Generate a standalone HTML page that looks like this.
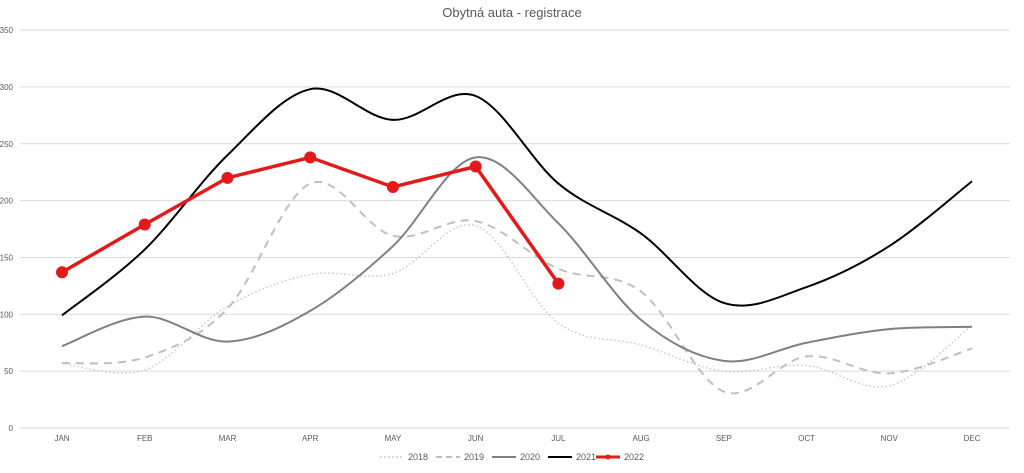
<!DOCTYPE html>
<html><head><meta charset="utf-8"><style>
body{margin:0;background:#fff;font-family:"Liberation Sans",sans-serif}
svg text{font-family:"Liberation Sans",sans-serif}
</style></head><body>
<svg id="c" width="1024" height="468" xmlns="http://www.w3.org/2000/svg">
<rect width="1024" height="468" fill="#fff"/>
<text x="512" y="17" text-anchor="middle" font-size="13" fill="#595959">Obytná auta - registrace</text>
<g id="grid"></g><g id="series"></g>
<g font-size="9" fill="#595959">
<line x1="380" y1="457" x2="404" y2="457" stroke="#bfbfbf" stroke-width="1.5" stroke-dasharray="1.5,2.5"/><text x="408" y="460">2018</text>
<line x1="436" y1="457" x2="460" y2="457" stroke="#bfbfbf" stroke-width="2" stroke-dasharray="6,4"/><text x="464" y="460">2019</text>
<line x1="492" y1="457" x2="516" y2="457" stroke="#808080" stroke-width="2"/><text x="520" y="460">2020</text>
<line x1="548" y1="457" x2="572" y2="457" stroke="#000" stroke-width="2"/><text x="576" y="460">2021</text>
<line x1="596" y1="457" x2="620" y2="457" stroke="#e41a1a" stroke-width="3"/><circle cx="608" cy="457" r="2.5" fill="#e41a1a"/><text x="624" y="460">2022</text>
</g>
</svg>
<script>
const NS="http://www.w3.org/2000/svg";
const X=i=>62+i*82.73, Y=v=>428-v*1.137;
const g=document.getElementById('grid');
let h='';
for(let v=0;v<=350;v+=50){const y=Y(v);h+=`<line x1="20" x2="1010" y1="${y}" y2="${y}" stroke="#d9d9d9" stroke-width="1"/><text x="13" y="${y+3}" font-size="8" fill="#595959" text-anchor="end">${v}</text>`;}
const m=["JAN","FEB","MAR","APR","MAY","JUN","JUL","AUG","SEP","OCT","NOV","DEC"];
m.forEach((s,i)=>h+=`<text x="${X(i)}" y="441" font-size="8" fill="#595959" text-anchor="middle">${s}</text>`);
g.innerHTML=h;
function smooth(d){const p=d.map((v,i)=>[X(i),Y(v)]);let s=`M${p[0][0]},${p[0][1]}`;
for(let i=0;i<p.length-1;i++){const p0=p[i-1]||p[i],p1=p[i],p2=p[i+1],p3=p[i+2]||p2,t=6;
s+=`C${p1[0]+(p2[0]-p0[0])/t},${p1[1]+(p2[1]-p0[1])/t} ${p2[0]-(p3[0]-p1[0])/t},${p2[1]-(p3[1]-p1[1])/t} ${p2[0]},${p2[1]}`;}return s;}
const S=[
[[57,51,107,135,136,178,92,73,50,55,37,90],'#c8c8c8',1.5,'1.5,2.5'],
[[57,62,105,215,169,182,140,120,32,63,48,70],'#bfbfbf',2,'8,6'],
[[72,98,76,103,160,238,180,95,59,75,87,89],'#808080',2,''],
[[99,157,240,298,271,292,215,171,110,124,160,217],'#000',2,'']];
let o='';
S.forEach(([d,c,w,da])=>o+=`<path d="${smooth(d)}" fill="none" stroke="${c}" stroke-width="${w}" ${da?`stroke-dasharray="${da}"`:''}/>`);
const r=[137,179,220,238,212,230,127];
o+=`<polyline points="${r.map((v,i)=>X(i)+','+Y(v)).join(' ')}" fill="none" stroke="#e41a1a" stroke-width="3.5"/>`;
r.forEach((v,i)=>o+=`<circle cx="${X(i)}" cy="${Y(v)}" r="6" fill="#e41a1a"/>`);
document.getElementById('series').innerHTML=o;
</script>
</body></html>
